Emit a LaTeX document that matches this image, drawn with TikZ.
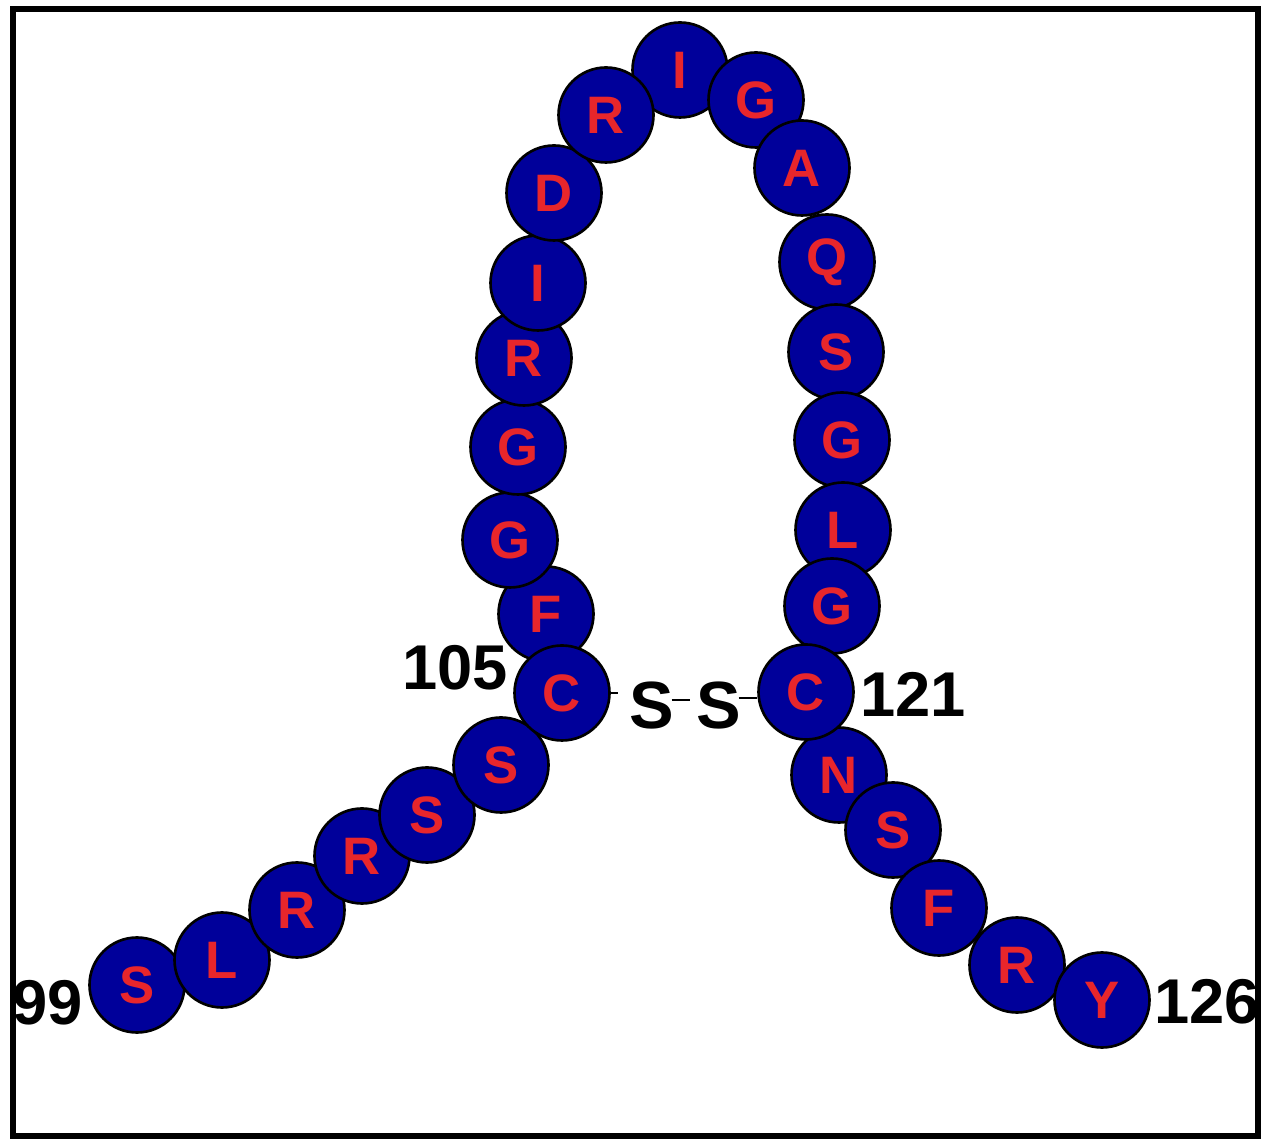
\documentclass[tikz,border=0pt]{standalone}
\usepackage{fontspec}
\setmainfont{Liberation Sans}
\usepackage{xcolor}
\usepackage{tikz}
\usetikzlibrary{positioning}
\definecolor{resBlue}{HTML}{00009A}
\definecolor{resRed}{HTML}{E8262B}
\begin{document}
\begin{tikzpicture}[
  res/.style={circle, draw=black, line width=1.5pt, fill=resBlue, text=resRed, minimum size=1.9cm, inner sep=0pt, font=\fontsize{30}{30}\selectfont\bfseries},
  num/.style={font=\fontsize{36}{36}\selectfont\bfseries, inner sep=0pt},
  sul/.style={font=\fontsize{38}{38}\selectfont\bfseries, inner sep=0pt},
  bond/.style={line width=0.8pt}]
\useasboundingbox (0,0) rectangle (25.26,22.78);
\draw[line width=3pt] (0.26,0.06) rectangle (25.16,22.60);
% left arm: residues 99-105
\node[res] (s99)  at (2.74,3.08)  {S};
\node[res] (l100) at (4.44,3.58)  {L};
\node[res] (r101) at (5.94,4.58)  {R};
\node[res] (r102) at (7.24,5.66)  {R};
\node[res] (s103) at (8.54,6.48)  {S};
\node[res] (s104) at (10.02,7.48) {S};
% loop: residues 106-120
\node[res] (f106) at (10.92,10.50) {F};
\node[res] (g107) at (10.20,11.98) {G};
\node[res] (g108) at (10.36,13.84) {G};
\node[res] (r109) at (10.48,15.62) {R};
\node[res] (i110) at (10.76,17.12) {I};
\node[res] (d111) at (11.08,18.92) {D};
\node[res] (i113) at (13.60,21.38) {I};
\node[res] (r112) at (12.12,20.48) {R};
\node[res] (g114) at (15.12,20.78) {G};
\node[res] (a115) at (16.04,19.42) {A};
\node[res] (q116) at (16.54,17.54) {Q};
\node[res] (s117) at (16.72,15.74) {S};
\node[res] (g118) at (16.84,13.98) {G};
\node[res] (l119) at (16.86,12.18) {L};
\node[res] (g120) at (16.64,10.66) {G};
\node[res] (c105) at (11.24,8.92) {C};
% right arm: residues 121-126
\node[res] (n122) at (16.78,7.28) {N};
\node[res] (c121) at (16.12,8.94) {C};
\node[res] (s123) at (17.86,6.18) {S};
\node[res] (f124) at (18.78,4.62) {F};
\node[res] (r125) at (20.34,3.48) {R};
\node[res] (y126) at (22.04,2.78) {Y};
% disulfide bridge
\node[sul] (sa) at (13.04,8.66) {S};
\node[sul] (sb) at (14.38,8.66) {S};
\draw[bond] (c105.east) -- ([xshift=-0.22cm]c105.east -| sa.west);
\draw[bond] ([xshift=-0.06cm,yshift=0.12cm]sa.east) -- ([xshift=-0.12cm,yshift=0.12cm]sb.west);
\draw[bond] ([xshift=-0.06cm,yshift=0.16cm]sb.east) -- ([yshift=0.16cm]sb.east -| c121.west);
% residue numbers
\node[num] (n99)  at (0.96,2.72)  {99};
\node[num] (n105) at (9.10,9.42)  {105};
\node[num] (n121) at (18.26,8.90) {121};
\node[num] (n126) at (24.14,2.74) {126};
\end{tikzpicture}
\end{document}
